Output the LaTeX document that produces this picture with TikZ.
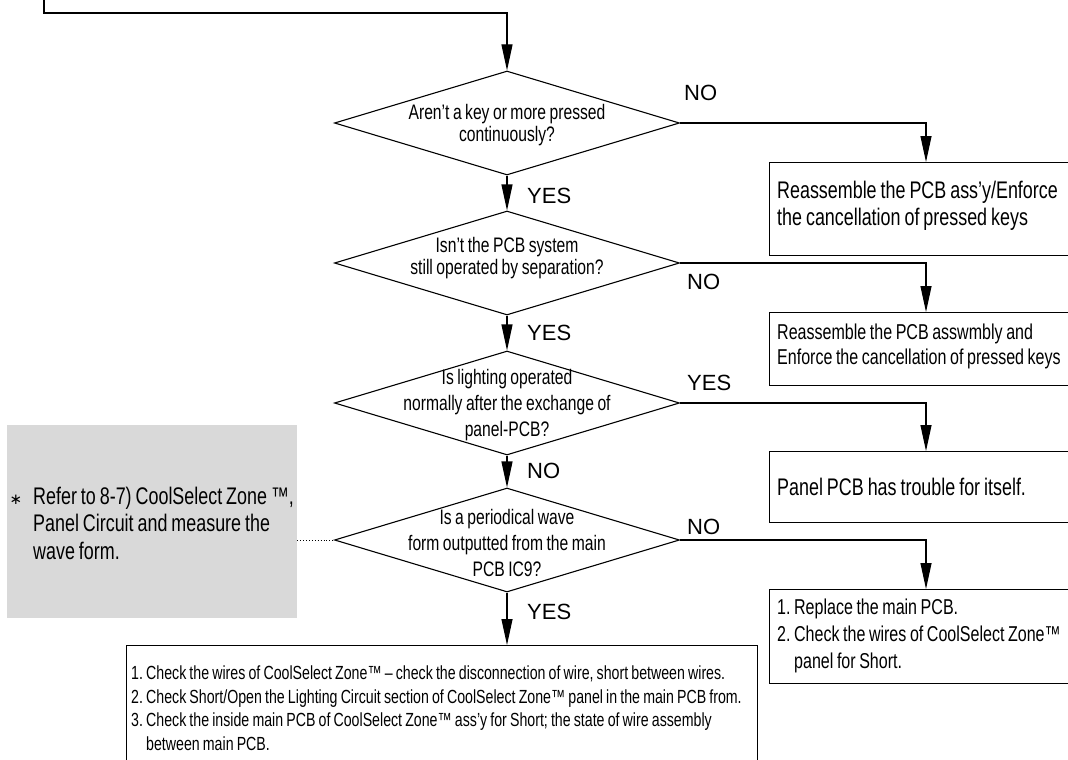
\documentclass[tikz,border=0pt]{standalone}
\usepackage{fontspec}
\setmainfont{Liberation Sans}
\newfontfamily\nf[FakeStretch=0.746,WordSpace=0.8]{Liberation Sans}
\newfontfamily\djv{DejaVu Sans}
\usetikzlibrary{arrows.meta,shapes.geometric}
\definecolor{graybg}{RGB}{217,217,217}
\frenchspacing
\begin{document}
\begin{tikzpicture}[x=1pt,y=-1pt,
  conn/.style={line width=1.1pt},
  arr/.style={conn,-{Triangle[length=26pt,width=11pt]}},
  dia/.style={draw,line width=1.1pt,shape=diamond,minimum width=345pt,minimum height=104pt,inner sep=0pt},
  dtxt/.style={align=center,inner sep=0pt,font=\nf\fontsize{21}{22}\selectfont},
  box/.style={draw,line width=1.1pt,anchor=north west,inner sep=0pt},
  btxt/.style={anchor=west,align=left,inner sep=0pt},
  lbl/.style={font=\fontsize{22}{22}\selectfont,inner sep=0pt,anchor=west},
]
\useasboundingbox (0,0) rectangle (1068,760);
\fill[white] (0,0) rectangle (1068,760);
\clip (0,0) rectangle (1068,760);

% decisions
\node[dia] (d1) at (507,123) {};
\node[dia] (d2) at (507,263) {};
\node[dia] (d3) at (507,403) {};
\node[dia] (d4) at (507,540) {};
\node[dtxt] (t1) at (507,125) {Aren’t a key or more pressed\\continuously?};
\node[dtxt] (t2) at (507,258) {Isn’t the PCB system\\still operated by separation?};
\node[dtxt,font=\nf\fontsize{21}{26}\selectfont] (t3) at (507,405) {Is lighting operated\\normally after the exchange of\\panel-PCB?};
\node[dtxt,font=\nf\fontsize{21}{26}\selectfont] (t4) at (507,543) {Is a periodical wave\\form outputted from the main\\PCB IC9?};

% result boxes
\node[box,minimum width=320pt,minimum height=93pt] (b1) at (769,162) {};
\node[box,minimum width=320pt,minimum height=73pt] (b2) at (769,312) {};
\node[box,minimum width=320pt,minimum height=71pt] (b3) at (769,451) {};
\node[box,minimum width=320pt,minimum height=94pt] (b4) at (769,589) {};
\node[box,minimum width=631pt,minimum height=130pt] (b5) at (126,645) {};
\node[btxt,font=\nf\fontsize{24}{27}\selectfont] (b1t) at (777,206) {Reassemble the PCB ass’y/Enforce\\the cancellation of pressed keys};
\node[btxt,font=\nf\fontsize{21.5}{25}\selectfont] (b2t) at (777,346) {Reassemble the PCB asswmbly and\\Enforce the cancellation of pressed keys};
\node[btxt,font=\nf\fontsize{24}{27}\selectfont] (b3t) at (777,487) {Panel PCB has trouble for itself.};
\node[btxt,font=\nf\fontsize{21.5}{27}\selectfont] (b4t) at (777,636) {1. Replace the main PCB.\\2. Check the wires of CoolSelect Zone™\\\hspace*{17pt}panel for Short.};
\node[btxt,font=\nf\fontsize{19}{23.5}\selectfont] (b5t) at (131,708) {1. Check the wires of CoolSelect Zone™ – check the disconnection of wire, short between wires.\\2. Check Short/Open the Lighting Circuit section of CoolSelect Zone™ panel in the main PCB from.\\3. Check the inside main PCB of CoolSelect Zone™ ass’y for Short; the state of wire assembly\\\hspace*{15pt}between main PCB.};

% note
\node[fill=graybg,anchor=north west,minimum width=290pt,minimum height=193pt,inner sep=0pt] (g) at (7,425) {};
\node[btxt,font=\nf\fontsize{24}{27.5}\selectfont] (gt) at (33,523) {\llap{\djv\fontsize{15}{15}\selectfont ∗\hspace{11pt}}Refer to 8-7) CoolSelect Zone ™,\\Panel Circuit and measure the\\wave form.};

% connectors
\coordinate (s0) at (44,-5);
\coordinate (c0) at (44,13);
\coordinate (ax) at (926,0);
\draw[arr] (s0) -- (c0) -| (d1.north);
\draw[arr] (d1.south) -- (d2.north);
\draw[arr] (d2.south) -- (d3.north);
\draw[arr] (d3.south) -- (d4.north);
\draw[arr] (d4.south) -- (d4.south |- b5.north);
\draw[arr] (d1.east) -| (ax |- b1.north);
\draw[arr] (d2.east) -| (ax |- b2.north);
\draw[arr] (d3.east) -| (ax |- b3.north);
\draw[arr] (d4.east) -| (ax |- b4.north);
\draw[dotted,line width=0.9pt] (g.east |- d4.west) -- (d4.west);

% labels
\node[lbl] (l1) at (684,93) {NO};
\node[lbl] (l2) at (527,196) {YES};
\node[lbl] (l3) at (687,282) {NO};
\node[lbl] (l4) at (527,333) {YES};
\node[lbl] (l5) at (687,383) {YES};
\node[lbl] (l6) at (527,471) {NO};
\node[lbl] (l7) at (687,527) {NO};
\node[lbl] (l8) at (527,612) {YES};
\end{tikzpicture}
\end{document}
